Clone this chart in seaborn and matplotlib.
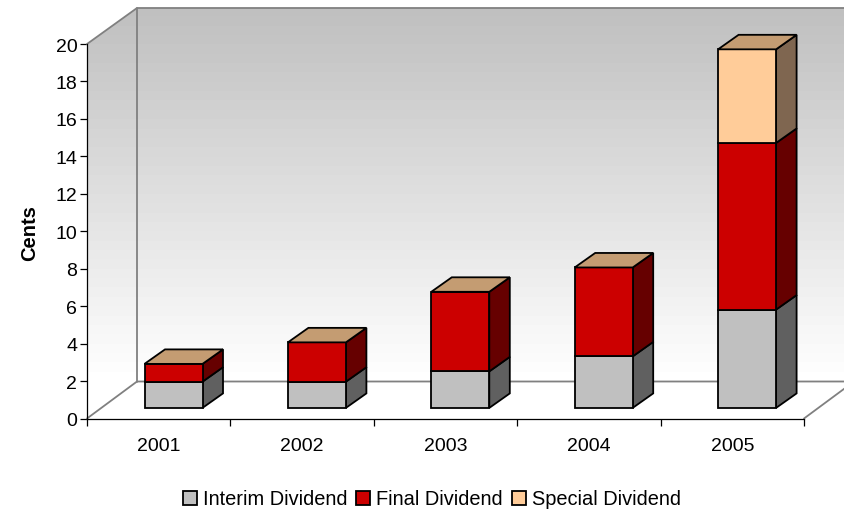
import matplotlib.pyplot as plt
import numpy as np
import seaborn as sns
from matplotlib.colors import LinearSegmentedColormap
from matplotlib.patches import Patch, Polygon

years = ["2001", "2002", "2003", "2004", "2005"]
interim = [1.4, 1.4, 1.95, 2.75, 5.25]
final = [0.95, 2.1, 4.25, 4.75, 8.9]
special = [0, 0, 0, 0, 5.0]
series_names = ["Interim Dividend", "Final Dividend", "Special Dividend"]
front_colors = ["#c0c0c0", "#cc0000", "#ffcc99"]
side_colors = ["#606060", "#660000", "#7f6650"]
top_color = "#c49c72"
y_ticks = list(range(0, 21, 2))

sns.set_theme(style="white")
plt.rcParams["font.family"] = ["Liberation Sans", "DejaVu Sans"]

W, H = 845, 510
fig = plt.figure(figsize=(W / 100, H / 100), dpi=100)
ax = fig.add_axes([87 / W, 1 - 419.5 / H, 717 / W, 374.5 / H])
ax.set_facecolor("none")

# Draw the stacks
bottom = np.zeros(len(years))
for values, color in zip([interim, final, special], front_colors):
    sns.barplot(x=years, y=values, bottom=bottom, color=color, saturation=1,
                width=58 / 143.4, edgecolor="black", linewidth=1.3, ax=ax, zorder=3)
    bottom = bottom + np.array(values)

ax.set_xlim(-0.5, 4.5)
ax.set_ylim(0, 20)
px_x = 1 / 143.4
px_y = 1 / 18.725

# Depth of the box and of the bars, in data units
wall_dx, wall_dy = 50 * px_x, 37 * px_y
bar_dx, bar_dy = 14.8 * px_x, 10.6 * px_y
side_dx, side_dy = 20.5 * px_x, 14.5 * px_y

# Back wall and left wall with the grey gradient
wall_top = 20 + 36 * px_y
gray = LinearSegmentedColormap.from_list("wall", ["#c0c0c0", "#ffffff"])
img = ax.imshow(np.linspace(0, 1, 40).reshape(-1, 1), cmap=gray, aspect="auto", zorder=0,
                extent=(-0.5, 5.0, wall_dy, wall_top), origin="upper")
clip = Polygon([(-0.5, wall_dy), (-0.5, 20), (-0.5 + wall_dx, wall_top), (5.0, wall_top),
                (5.0, wall_dy)], transform=ax.transData, fill=False, edgecolor="none",
               clip_on=False)
ax.add_patch(clip)
img.set_clip_box(fig.bbox)
img.set_clip_path(clip)
ax.set_xlim(-0.5, 4.5)
ax.set_ylim(0, 20)

wall_color = "#808080"
wall_lines = [
    ([-0.5, -0.5 + wall_dx, 5.0], [20, wall_top, wall_top]),
    ([-0.5 + wall_dx, -0.5 + wall_dx], [wall_top, wall_dy]),
    ([-0.5, -0.5 + wall_dx, 5.0], [0, wall_dy, wall_dy]),
    ([4.5, 4.5 + wall_dx], [0, wall_dy]),
]
for xs, ys in wall_lines:
    ax.plot(xs, ys, color=wall_color, lw=1.3, clip_on=False, zorder=1)

# Shift the fronts into the box, then add the side and top faces
for cont, side in zip(ax.containers, side_colors):
    for bar in cont:
        bar.set_x(bar.get_x() + bar_dx)
        bar.set_y(bar.get_y() + bar_dy)
        bar.set_clip_on(False)
        x1 = bar.get_x() + bar.get_width()
        y0, y1 = bar.get_y(), bar.get_y() + bar.get_height()
        if bar.get_height() > 0:
            ax.add_patch(Polygon([(x1, y0), (x1 + side_dx, y0 + side_dy),
                                  (x1 + side_dx, y1 + side_dy), (x1, y1)],
                                 facecolor=side, edgecolor="black", lw=1.3, zorder=2.5,
                                 clip_on=False))

for cont_bar in ax.containers[-1]:
    x0 = cont_bar.get_x()
    x1 = x0 + cont_bar.get_width()
    y1 = cont_bar.get_y() + cont_bar.get_height()
    ax.add_patch(Polygon([(x0, y1), (x1, y1), (x1 + side_dx, y1 + side_dy), (x0 + side_dx, y1 + side_dy)],
                         facecolor=top_color, edgecolor="black", lw=1.3, zorder=3.5,
                         clip_on=False))

# Axes
for name in ["top", "right"]:
    ax.spines[name].set_visible(False)
for name in ["left", "bottom"]:
    ax.spines[name].set_color("black")
    ax.spines[name].set_linewidth(0.9)
    ax.spines[name].set_zorder(4)

ax.set_yticks(y_ticks)
ax.set_xticks(np.arange(-0.5, 5, 1))
ax.set_xticklabels([])
ax.set_xticks(range(len(years)), labels=years, minor=True)
ax.tick_params(axis="y", which="major", left=True, length=5, width=0.9, color="black",
               labelsize=14, labelcolor="black", pad=2)
ax.tick_params(axis="x", which="major", bottom=True, length=5, width=0.9, color="black")
ax.tick_params(axis="x", which="minor", bottom=False, labelsize=14, labelcolor="black", pad=9)
ax.set_ylabel("")
fig.text(30 / W, 1 - 233 / H, "Cents", rotation=90, fontsize=14.5, fontweight="bold",
         color="black", ha="center", va="center")

handles = [Patch(facecolor=c, edgecolor="black", lw=1.3) for c in front_colors]
fig.legend(handles, series_names, loc="center", bbox_to_anchor=(432 / W, 1 - 500 / H), ncol=3,
           frameon=False, fontsize=14.4, handlelength=0.7, handleheight=0.7,
           handletextpad=0.3, columnspacing=0.45, labelcolor="black")

fig.savefig("out.png", dpi=100)
